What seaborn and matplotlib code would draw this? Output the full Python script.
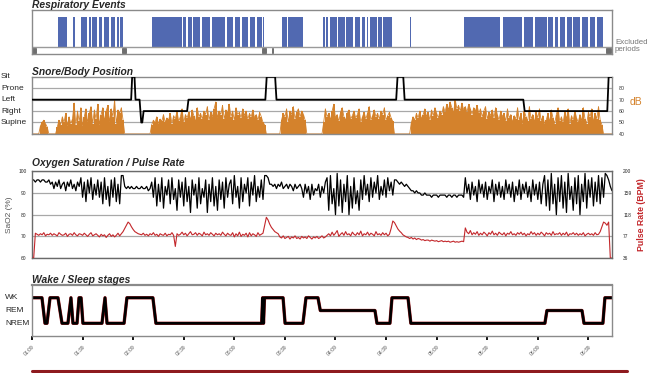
"""Sleep study summary: respiratory events, snore/position, SaO2/pulse, sleep stages"""
import numpy as np
import seaborn as sns
import matplotlib.pyplot as plt
from matplotlib import transforms
from matplotlib.lines import Line2D

# ---- time axis (minutes after 01:09) ----
TICK_MIN = [0, 30, 60, 90, 120, 150, 180, 210, 240, 270, 300, 330]
TICK_LABELS = ["01:09", "01:39", "02:09", "02:39", "03:09", "03:39",
               "04:09", "04:39", "05:09", "05:39", "06:09", "06:39"]
END_MIN = 344

# ---- respiratory events (start / end, minutes) ----
EVENT_START = [15.4, 24.3, 29.1, 33.8, 35.6, 39.7, 42.7, 46.8, 50.4, 52.2,
               71.2, 89.5, 92.5, 95.5, 100.8, 106.7, 115.6, 120.4, 124.5, 129.3, 133.4, 137.0,
               148.3, 151.8,
               172.6, 174.3, 176.7, 181.5, 186.2, 191.5, 195.7, 198.7, 200.4, 205.2, 208.1,
               224.2,
               256.2, 279.3, 291.8, 298.3, 306.0, 310.1, 313.1, 317.3, 320.8, 326.2, 330.9, 335.0]
EVENT_END = [20.8, 25.5, 32.6, 35.0, 38.5, 41.5, 45.7, 49.2, 51.6, 54.0,
             89.0, 91.3, 94.9, 99.6, 105.6, 114.4, 119.2, 123.3, 128.1, 132.2, 136.4, 137.6,
             151.2, 160.7,
             173.7, 175.5, 180.9, 185.6, 190.4, 194.5, 197.5, 199.2, 204.6, 207.6, 213.5,
             224.7,
             277.5, 290.6, 297.1, 305.4, 309.0, 311.9, 316.1, 320.2, 325.0, 329.7, 333.9, 338.6]
EXCL_START = [0.0, 53.4, 136.4, 142.3, 340.4]
EXCL_END = [2.4, 55.7, 138.8, 142.9, 343.5]

# ---- body position (1 Supine .. 5 Sit) ----
POS_NAMES = ["Supine", "Right", "Left", "Prone", "Sit"]
POS_T = [0, 58.8, 59.4, 60.8, 61.4, 63.8, 64.8, 65.4, 66.2, 92.0, 92.8, 138.4,
         139.2, 144.2, 145.0, 216.0, 216.8, 220.2, 221.0, 291.4, 292.2, 341.2, 342.0, 344]
POS_V = [3, 3, 5, 5, 3, 3, 1, 1, 2, 2, 3, 3, 5, 5, 3, 3, 5, 5, 3, 3, 2, 2, 5, 5]

# ---- snore level (dB, one value per minute, 40 = silent) ----
SNORE_FLOOR = 40
SNORE_START = [5, 15, 71, 148, 173, 225]
SNORE_SEGMENTS = [
    [47, 50, 52, 49, 46],
    [46, 52, 48, 55, 50, 58, 47, 55, 49, 53, 67, 48, 60, 51, 63, 47, 55, 62, 50, 58,
     64, 49, 61, 53, 66, 48, 57, 63, 51, 60, 65, 50, 62, 55, 70, 49, 61, 58, 63, 52],
    [48, 52, 50, 55, 49, 53, 51, 57, 50, 54, 52, 58, 49, 56, 53, 60, 51, 55, 62, 50,
     57, 54, 59, 52, 61, 56, 50, 63, 55, 58, 53, 60, 57, 64, 52, 59, 55, 62, 68, 54,
     60, 57, 65, 53, 61, 58, 66, 55, 60, 52, 63, 57, 59, 54, 62, 56, 60, 53, 58, 55,
     61, 54, 57, 52, 59, 55, 50, 48],
    [52, 58, 55, 62, 50, 60, 57, 64, 53, 59, 62, 55, 60, 57, 52],
    [50, 62, 55, 58, 52, 60, 66, 54, 57, 51, 59, 63, 55, 52, 58, 61, 53, 56, 60, 54,
     57, 62, 50, 55, 59, 53, 58, 64, 52, 56, 61, 55, 58, 53, 60, 57, 63, 52, 56, 59,
     54, 51],
    [50, 55, 52, 58, 54, 60, 53, 57, 62, 55, 59, 52, 61, 56, 63, 58, 54, 60, 57, 64,
     59, 66, 61, 68, 63, 58, 70, 62, 65, 60, 67, 61, 64, 59, 66, 62, 57, 63, 60, 65,
     58, 62, 55, 60, 64, 53, 59, 56, 61, 54, 63, 57, 52, 60, 55, 58, 51, 62, 54, 57,
     50, 56, 53, 63, 52, 58, 49, 60, 55, 51, 64, 53, 57, 50, 59, 54, 62, 51, 56, 49,
     52, 58, 50, 61, 54, 49, 57, 63, 51, 55, 50, 59, 53, 62, 49, 56, 52, 60, 54, 50,
     57, 51, 63, 53, 49, 59, 55, 62, 50, 58, 53, 64, 52, 48],
]

# ---- SaO2 (%) one value per minute ----
SAO2 = [96, 96, 95, 96, 96, 95, 96, 96, 95, 95, 96,
        94, 95, 92, 95, 93, 96, 92, 94, 95, 91, 95, 93, 96, 92, 94, 91, 95, 93,
        97, 88, 95, 86, 96, 90, 97, 87, 94, 89, 96, 88,
        95, 85, 97, 87, 93, 84, 96, 88, 97, 86, 94, 85,
        98, 98, 93, 92, 93,
        92, 93, 92, 92, 93, 92, 92, 93, 92, 92, 93, 91, 92,
        95, 88, 97, 84, 94, 86, 97, 83, 93, 89, 96, 85, 97, 87, 92, 82, 96, 88, 95, 84,
        97, 86, 93, 81, 96, 89, 94, 83, 97, 85, 92, 88, 96, 81, 94, 86, 97, 84, 93, 82,
        96, 87, 95, 83, 97, 88, 94,
        96, 85, 98, 88, 93, 83, 97, 86, 94, 90, 97, 84, 95, 89, 98, 86, 93, 88, 96, 87, 98,
        98, 97, 94,
        94, 93, 94, 92, 94, 93, 95, 92, 93, 94, 92, 94, 93, 91, 94, 92, 93, 94,
        92, 88, 94, 90, 93, 87, 94, 89, 92, 91, 94, 88, 93, 90, 95,
        97, 82, 98, 85, 92, 80, 99, 84, 96, 81, 94, 86, 98, 80, 93, 83, 97, 85, 91, 82,
        96, 87, 98, 89, 94, 86, 97, 88, 95, 90, 98, 87, 93, 89, 96, 88, 97, 91, 95, 89, 96,
        96, 95, 94, 95, 94, 93, 94, 93, 92,
        91, 91, 90, 91, 90, 90,
        89, 89, 90, 89, 89, 89, 88, 89, 89, 89, 88, 89, 89, 89, 89, 88, 89, 89, 88, 89,
        89, 88, 89, 89, 89, 88,
        97, 90, 94, 87, 95, 89, 93, 86, 96, 90, 94, 88, 95, 87, 93, 90, 96, 86, 94, 89,
        95, 88, 93, 87, 96, 90, 94, 88, 95, 86, 93, 89, 96, 87, 94, 90, 95, 88, 93, 86,
        96, 89, 94, 87, 95, 85, 94,
        98, 84, 96, 82, 99, 85, 94, 80, 97, 86, 98, 83, 95, 81, 99, 87, 93, 82, 97, 85,
        98, 80, 94, 86, 99, 83, 96, 88, 97, 84, 95, 86, 98, 85, 97, 88, 99,
        98, 96, 93, 91]

# ---- pulse rate (BPM) one value per minute ----
PULSE = [36, 36,
         83, 81, 79, 82, 80, 84, 78, 81, 80, 83, 79, 82, 80, 78, 84, 81, 79, 80, 83, 77,
         81, 82, 79, 84, 80, 78, 82, 81, 79, 83, 80, 77, 81, 84, 78, 80, 82, 79, 76, 81,
         78, 80, 75, 79, 82, 77, 80, 76, 79, 83, 78,
         82, 86, 92, 98, 104, 101,
         95, 90, 86, 84, 82, 81,
         80, 83, 79, 81, 78, 82, 80, 84, 79, 81, 77, 82, 80, 79, 83, 78, 81, 80, 84, 79,
         58,
         82, 79, 81, 85, 80, 83, 78, 82, 86, 80, 81, 84, 79, 83, 81, 78, 85, 80, 82, 79,
         84, 81, 78, 83, 80, 82, 79, 85, 81, 78, 83, 80,
         79, 84, 76, 82, 78, 85, 77, 81, 79, 83, 76, 84, 78, 82, 80, 77, 84, 79, 81, 83,
         98, 113, 108, 100, 94, 90, 86, 84, 82,
         76, 74, 78, 73, 75, 77, 72, 76, 74, 78, 73, 75, 72, 77, 74, 76, 73, 78, 75, 72,
         76, 74, 77, 73, 75, 78, 74, 76, 79,
         82, 78, 85, 79, 83, 88, 77, 81, 84, 79, 86, 80, 82, 78, 85, 81, 79, 84, 80, 87,
         78, 82, 80, 85, 79, 83, 81, 78, 86, 80, 82, 79, 84, 80, 83, 78, 81,
         92, 106, 103, 97, 91, 87, 84, 80, 78, 76, 75,
         73, 75, 72, 74, 71, 73, 72,
         70, 71, 69, 70, 70, 68, 70, 69, 68, 69, 67, 68, 69, 67, 68, 67, 68, 66, 67, 68,
         66, 67, 66, 67, 68, 67,
         93, 85, 82, 88, 80, 84, 81, 86, 79, 83, 80, 85, 82, 78, 84, 81, 87, 80, 83, 79,
         85, 82, 80, 84, 78, 83, 81, 86, 80, 82, 79, 84, 81, 85, 80, 83, 78, 82, 80, 86,
         81, 84, 79, 83, 80, 85, 82, 78, 84, 81, 83, 79, 86, 80, 82, 81, 84, 79, 83, 80,
         85, 78, 82, 81, 84, 80, 83, 79, 82, 80, 84, 78, 81, 83, 80, 82, 79, 84, 80, 81,
         86, 95, 104, 102, 98, 104,
         36, 36]

# ---- sleep stages (1 NREM, 2 REM, 3 WK) ----
STAGE_NAMES = ["NREM", "REM", "WK"]
STAGE_T = [0, 5.9, 7.7, 8.9, 10.7, 15.4, 17.8, 21.3, 23.1, 24.3,
           26.7, 27.9, 29.1, 30.2, 41.5, 43.3, 44.5, 54.6, 56.3, 71.7,
           73.5, 136.2, 136.8, 137.3, 137.9, 148.9, 150.1, 160.7, 162.5, 169.6,
           171.0, 203.4, 204.6, 212.3, 213.5, 223.0, 224.7, 304.2, 305.4, 326.2,
           327.4, 338.6, 339.8, 344]
STAGE_V = [3, 3, 1, 1, 3, 3, 1, 1, 3, 1,
           1, 3, 3, 1, 1, 3, 1, 1, 3, 3,
           1, 1, 3, 1, 3, 3, 1, 1, 3, 3,
           2, 2, 1, 1, 3, 3, 1, 1, 2, 2,
           1, 1, 3, 3]

BLUE = "#5169b1"
ORANGE = "#d4822c"
RED = "#c3272b"
GRID = "#a8a8a8"
EDGE = "#8a8a8a"

sns.set_style("white")
plt.rcParams['font.family'] = ['Liberation Sans', 'DejaVu Sans']

TITLE_KW = dict(loc='left', fontsize=7.4, fontweight='bold', style='italic')


def style_box(ax, color=EDGE, lw=1.0):
    for sp in ax.spines.values():
        sp.set_visible(True)
        sp.set_color(color)
        sp.set_linewidth(lw)
    ax.set_xlim(0, END_MIN)
    ax.set_xticks([])


fig = plt.figure(figsize=(6.5, 3.73), dpi=100)
left, width = 32 / 650, 580 / 650
ax1 = fig.add_axes([left, 0.855, width, 0.118])
ax2 = fig.add_axes([left, 0.641, width, 0.153])
ax3 = fig.add_axes([left, 0.308, width, 0.233])
ax4 = fig.add_axes([left, 0.099, width, 0.137])

# --- Respiratory events ---
ev_w = np.array(EVENT_END) - np.array(EVENT_START)
ax1.bar(EVENT_START, 0.70, width=ev_w, bottom=0.15, align='edge', color=BLUE, linewidth=0)
ex_w = np.array(EXCL_END) - np.array(EXCL_START)
ax1.bar(EXCL_START, 0.12, width=ex_w, bottom=0.02, align='edge', color='#6e6e6e',
        edgecolor='#555555', linewidth=0.5)
ax1.axhline(0.15, color='#9a9a9a', lw=1.0)
ax1.set_ylim(0, 1)
ax1.set_yticks([])
style_box(ax1)
ax1.set_title("Respiratory Events", pad=1, **TITLE_KW)
fig.text(615 / 650, 1 - 46 / 373, "Excluded\nperiods", fontsize=5.7, color='#777777',
         ha='left', va='center', linespacing=1.1)

# --- Snore / body position ---
snore = np.full(END_MIN + 1, SNORE_FLOOR, dtype=float)
for start, seg in zip(SNORE_START, SNORE_SEGMENTS):
    snore[start:start + len(seg)] = seg
minutes = np.arange(END_MIN + 1)
ax2.bar(minutes, snore - SNORE_FLOOR, width=1.0, bottom=SNORE_FLOOR, color=ORANGE, linewidth=0)
sns.lineplot(x=minutes, y=snore, ax=ax2, color=ORANGE, lw=0.6, estimator=None)
ax2.set_ylim(40, 90)
ax2.grid(axis='y', color=GRID, lw=0.9)
ax2.set_axisbelow(True)
style_box(ax2)

ax2b = ax2.twinx()
sns.lineplot(x=POS_T, y=POS_V, ax=ax2b, color='black', lw=1.3, estimator=None, sort=False)
ax2b.set_ylim(0, 5)
ax2b.set_yticks([])
ax2b.set_xlim(0, END_MIN)
for sp in ax2b.spines.values():
    sp.set_visible(False)
# twinx moves the host ticks to the left, so put the dB scale back on the right
ax2.yaxis.tick_right()
ax2.set_yticks([40, 50, 60, 70, 80])
ax2.set_yticklabels(["40", "50", "60", "70", "80"], fontsize=3.8, color='#333333')
ax2.tick_params(axis='y', length=0, pad=5)
trans2 = transforms.blended_transform_factory(fig.transFigure, ax2b.transData)
for lvl, name in enumerate(POS_NAMES, start=1):
    ax2b.text(1 / 650, lvl, name, transform=trans2, fontsize=6.0, ha='left', va='center')
ax2.set_title("Snore/Body Position", pad=1.5, **TITLE_KW)
fig.text(636 / 650, 1 - 102 / 373, "dB", fontsize=7.5, color=ORANGE, ha='center', va='center')

# --- Oxygen saturation / pulse ---
t_min = np.arange(len(SAO2))
sns.lineplot(x=t_min, y=SAO2, ax=ax3, color='black', lw=0.9, estimator=None, sort=False)
ax3.set_ylim(60, 100)
ax3.set_yticks([60, 70, 80, 90, 100])
ax3.set_yticklabels(["60", "70", "80", "90", "100"], fontsize=3.5)
ax3.tick_params(axis='y', length=0, pad=4)
ax3.grid(axis='y', color=GRID, lw=0.9)
ax3.set_axisbelow(True)
style_box(ax3, color='#6a6a6a')
ax3.set_ylabel("SaO2 (%)", fontsize=6.0, color='#555555', labelpad=4)

ax3b = ax3.twinx()
t_pulse = np.arange(len(PULSE))
sns.lineplot(x=t_pulse, y=PULSE, ax=ax3b, color=RED, lw=0.8, estimator=None, sort=False)
ax3b.set_ylim(36, 200)
ax3b.set_yticks([36, 77, 118, 159, 200])
ax3b.set_yticklabels(["36", "77", "118", "159", "200"], fontsize=3.5)
ax3b.tick_params(axis='y', length=0, pad=8, right=True)
ax3b.set_xlim(0, END_MIN)
for sp in ax3b.spines.values():
    sp.set_visible(False)
ax3b.set_ylabel("Pulse Rate (BPM)", fontsize=6.3, color=RED, fontweight='bold', labelpad=4)
ax3.set_title("Oxygen Saturation / Pulse Rate", pad=4, **TITLE_KW)

# --- Wake / sleep stages ---
sns.lineplot(x=STAGE_T, y=STAGE_V, ax=ax4, color='#a51e22', lw=2.4, estimator=None, sort=False)
sns.lineplot(x=STAGE_T, y=STAGE_V, ax=ax4, color='black', lw=1.9, estimator=None, sort=False)
ax4.set_ylim(0, 4)
ax4.set_yticks([])
style_box(ax4)
ax4.spines['top'].set_linewidth(1.6)
ax4.set_xticks(TICK_MIN)
ax4.set_xticklabels(TICK_LABELS, rotation=45, ha='right', rotation_mode='anchor',
                    fontsize=3.6, color='#555555')
ax4.tick_params(axis='x', bottom=True, length=3, width=1.3, color='black', pad=3)
trans4 = transforms.blended_transform_factory(fig.transFigure, ax4.transData)
for lvl, name in enumerate(STAGE_NAMES, start=1):
    ax4.text(5 / 650, lvl, name, transform=trans4, fontsize=6.0, ha='left', va='center')
ax4.set_title("Wake / Sleep stages", pad=1.5, **TITLE_KW)

# bottom rule
fig.add_artist(Line2D([32 / 650, 627 / 650], [0.005, 0.005], color='#8e1b1f', lw=2.2))

fig.savefig('out.png', dpi=100)
plt.close(fig)
